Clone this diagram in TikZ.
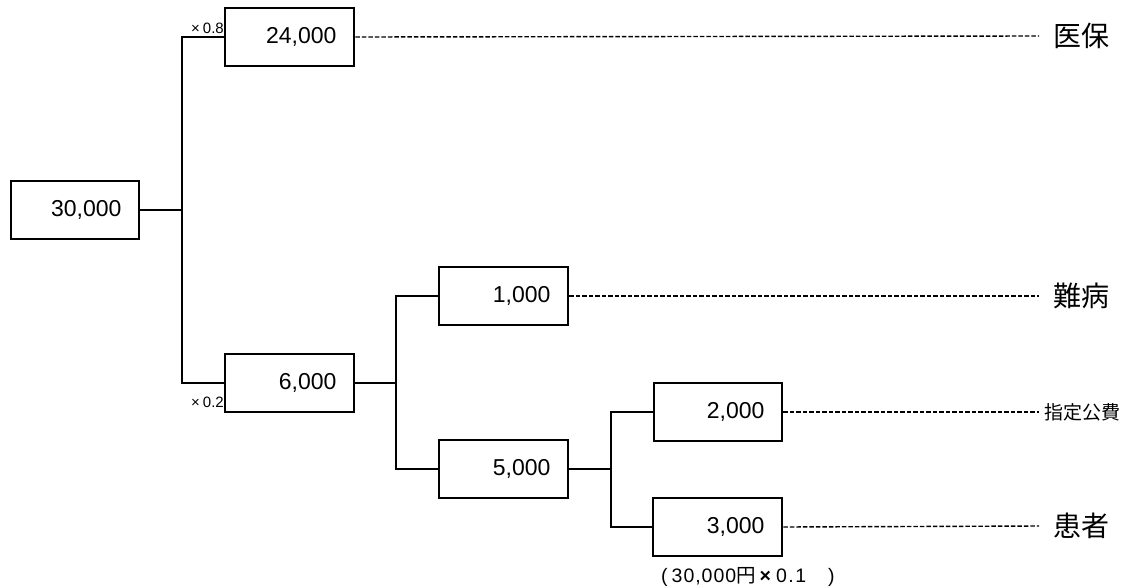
\documentclass[tikz,border=0pt]{standalone}
\usepackage{fontspec}
\setmainfont{Liberation Sans}
\newfontfamily\cjk{Noto Sans CJK JP}
\newfontfamily\capfont[LetterSpace=5]{Liberation Sans}
\begin{document}
\begin{tikzpicture}[x=1pt,y=-1pt,
  conn/.style={line width=2.5pt},
  dashline/.style={line width=1.4pt, dash pattern=on 4.5pt off 2pt},
  box/.style={draw, line width=2.5pt, minimum height=58pt, inner xsep=17.5pt, inner ysep=0pt,
    align=right, font=\fontsize{23}{23}\selectfont},
  bigl/.style={anchor=west, inner ysep=0pt, font=\cjk\fontsize{28}{28}\selectfont},
  smalll/.style={anchor=west, inner ysep=0pt, font=\cjk\fontsize{19}{19}\selectfont},
  factor/.style={anchor=east, inner sep=0pt, font=\fontsize{15}{15}\selectfont}]
\useasboundingbox (0,0) rectangle (1127,587);

\node[box, text width=93pt] (a) at (75,210) {30,000};
\node[box, text width=94pt] (b) at (289.5,37) {24,000};
\node[box, text width=94pt] (c) at (289.5,383) {6,000};
\node[box, text width=94pt] (d) at (503.5,296) {1,000};
\node[box, text width=94pt] (e) at (503.5,469) {5,000};
\node[box, text width=93pt] (f) at (718,412) {2,000};
\node[box, text width=94pt] (g) at (717.5,527) {3,000};

\coordinate (j1) at (182,210);
\coordinate (j2) at (396,383);
\coordinate (j3) at (611,469);

\draw[conn] (a.east) -- (j1);
\draw[conn] (b.west) -| (j1) |- (c.west);
\draw[conn] (c.east) -- (j2);
\draw[conn] (d.west) -| (j2) |- (e.west);
\draw[conn] (e.east) -- (j3);
\draw[conn] (f.west) -| (j3) |- (g.west);

\node[factor] (f08) at (224,28) {×\kern3pt0.8};
\node[factor] (f02) at (224,402) {×\kern3pt0.2};

\node[bigl, inner xsep=14pt] (l1) at (1039,36) {医保};
\node[bigl, inner xsep=14pt] (l2) at (1039,296) {難病};
\node[smalll, inner xsep=5pt] (l3) at (1039,412) {指定公費};
\node[bigl, inner xsep=14pt] (l4) at (1039,526) {患者};

\draw[dashline] (b.east) -- (l1.west);
\draw[dashline] (d.east) -- (l2.west);
\draw[dashline] (f.east) -- (l3.west);
\draw[dashline] (g.east) -- (l4.west);

\node[anchor=west, inner sep=0pt, font=\capfont\fontsize{19.5}{19.5}\selectfont] (cap) at (661,577)
  {(\kern4pt30,000{\cjk 円}\kern4pt\textbf{×}\kern4pt0\kern1.5pt.\kern1.5pt1\kern22pt)};
\end{tikzpicture}
\end{document}
